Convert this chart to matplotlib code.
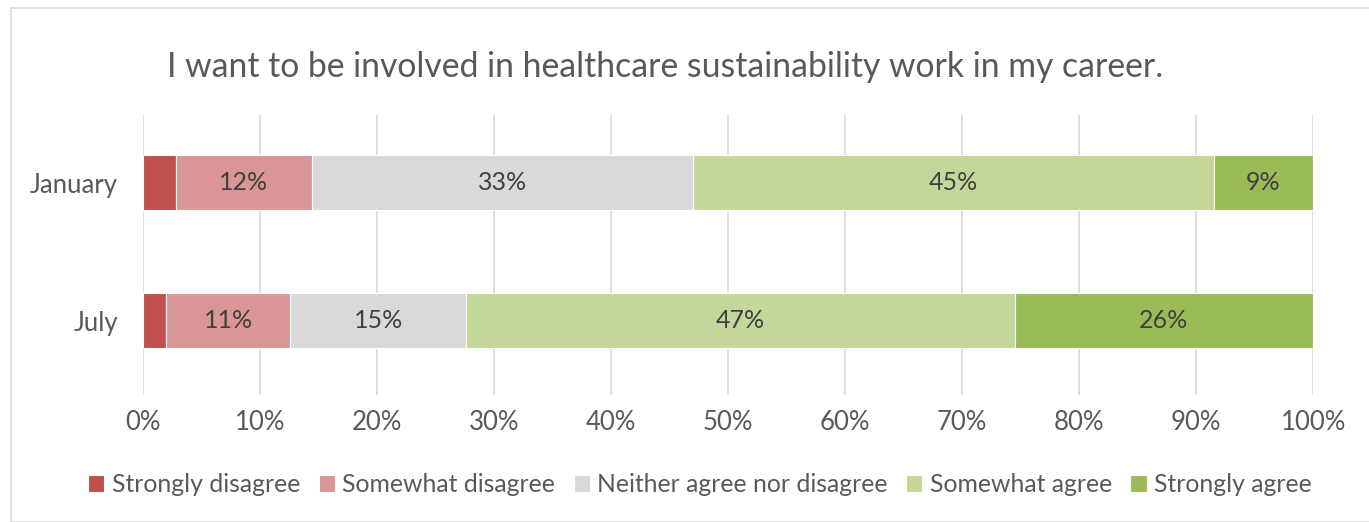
import numpy as np
import matplotlib.pyplot as plt
from matplotlib.patches import Rectangle

plt.rcParams['font.family'] = ['Lato', 'DejaVu Sans']

# survey rounds (bottom to top)
rounds = ['July', 'January']
categories = ['Strongly disagree', 'Somewhat disagree', 'Neither agree nor disagree',
              'Somewhat agree', 'Strongly agree']
# share of respondents (%) per category, order matches rounds
strongly_disagree = [2.0, 2.8]
somewhat_disagree = [10.6, 11.6]
neither = [15.0, 32.6]
somewhat_agree = [46.9, 44.5]
strongly_agree = [25.5, 8.5]
colors = ['#C0504D', '#DA9694', '#D9D9D9', '#C4D79B', '#9BBB59']

series = [strongly_disagree, somewhat_disagree, neither, somewhat_agree, strongly_agree]
text_color = '#595959'

fig = plt.figure(figsize=(13.69, 5.22), dpi=100)
ax = fig.add_axes([0.1045, 0.243, 0.8547, 0.537])

# outer chart border
fig.patches.append(Rectangle((11 / 1369, 0), 1.0, 1 - 8 / 522, transform=fig.transFigure,
                             fill=False, edgecolor='#D9D9D9', linewidth=1.2))

y = np.arange(len(rounds))
left = np.zeros(len(rounds))
for name, vals, c in zip(categories, series, colors):
    vals = np.array(vals)
    ax.barh(y, vals, left=left, height=0.4, color=c, edgecolor='white',
            linewidth=0.8, label=name, zorder=3)
    for yi, l, v in zip(y, left, vals):
        if v >= 5:
            ax.text(l + v / 2, yi, f'{int(v + 0.5)}%', ha='center', va='center',
                    fontsize=18, color='#404040', zorder=4)
    left += vals

ax.set_xlim(0, 100)
ax.set_ylim(-0.54, 1.49)
ax.set_xticks(np.arange(0, 101, 10))
ax.set_xticklabels([f'{t}%' for t in range(0, 101, 10)])
ax.set_yticks(y)
ax.set_yticklabels(rounds)
ax.tick_params(axis='both', length=0, labelsize=18.5, labelcolor=text_color)
ax.tick_params(axis='x', pad=11)
ax.tick_params(axis='y', pad=18)
ax.grid(axis='x', color='#D9D9D9', linewidth=1.2, zorder=0)
for s in ax.spines.values():
    s.set_visible(False)

fig.suptitle('I want to be involved in healthcare sustainability work in my career.',
             x=0.486, y=0.902, fontsize=24.3, color=text_color)

ax.legend(loc='center', bbox_to_anchor=(0.476, -0.32), ncol=5, frameon=False,
          fontsize=17.8, labelcolor=text_color, handlelength=0.65, handleheight=0.65,
          handletextpad=0.3, columnspacing=0.75)

fig.savefig('out.png', dpi=100)
